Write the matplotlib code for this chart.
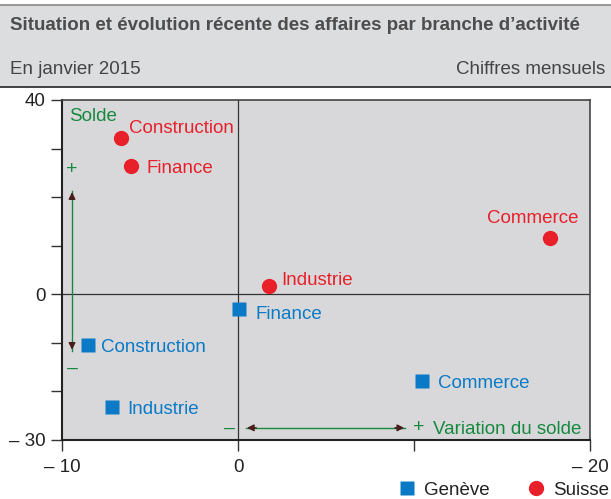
import matplotlib.pyplot as plt
from matplotlib.patches import Rectangle
from matplotlib.lines import Line2D

plt.rcParams['font.family'] = ['Liberation Sans', 'DejaVu Sans']

# Data: x = variation du solde, y = solde
branches = ["Construction", "Finance", "Commerce", "Industrie"]
suisse_x = [-6.65, -6.1, 17.7, 1.75]
suisse_y = [32.2, 26.4, 11.6, 1.7]
geneve_x = [-8.5, 0.05, 10.45, -7.15]
geneve_y = [-10.4, -3.0, -17.9, -23.2]

x_ticks = [-10, 0, 10, 20]
x_ticklabels = ["\u2013 10", "0", "", "\u2013 20"]
y_ticks = [-30, -20, -10, 0, 10, 20, 30, 40]
y_ticklabels = ["\u2013 30", "", "", "0", "", "", "", "40"]

RED = "#E8202A"
BLUE = "#0A7AC6"
GREEN = "#17893F"
HEAD = "#4A1C1C"
FS = 13.5

# label offsets in pixels (dx, dy, ha)
suisse_off = {"Construction": (8, 9, "left"), "Finance": (16, -2, "left"),
              "Commerce": (-17, 19, "center"), "Industrie": (12, 6, "left")}
geneve_off = {"Construction": (13, -3, "left"), "Finance": (17, -6, "left"),
              "Commerce": (16, -2, "left"), "Industrie": (15, -3, "left")}

fig = plt.figure(figsize=(6.11, 4.99), dpi=100)
W, H = 611, 499

# header band
fig.patches.append(Rectangle((0, (H - 87) / H), 1, 82 / H, transform=fig.transFigure,
                             facecolor="#DCDDDF", edgecolor="none", zorder=0))
fig.add_artist(Line2D([0, 1], [(H - 5) / H] * 2, transform=fig.transFigure, color="#888888", lw=1.2))
fig.add_artist(Line2D([0, 1], [(H - 87) / H] * 2, transform=fig.transFigure, color="#222222", lw=1.2))
fig.text(10 / W, (H - 26) / H, "Situation et évolution récente des affaires par branche d\u2019activité",
         fontsize=13.5, fontweight="bold", color="#4D4D4D", va="center", ha="left")
fig.text(10 / W, (H - 69) / H, "En janvier 2015", fontsize=FS, color="#444444", va="center", ha="left")
fig.text(605 / W, (H - 69) / H, "Chiffres mensuels", fontsize=FS, color="#444444", va="center", ha="right")

ax = fig.add_axes([62 / W, (H - 440) / H, (590 - 62) / W, (440 - 100) / H])
ax.set_facecolor("#D8D8DA")
ax.set_xlim(-10, 20)
ax.set_ylim(-30, 40)

for s in ["top", "right"]:
    ax.spines[s].set_color("#444444")
    ax.spines[s].set_linewidth(1.2)
for s in ["left", "bottom"]:
    ax.spines[s].set_color("#222222")
    ax.spines[s].set_linewidth(1.5)

ax.set_xticks(x_ticks)
ax.set_xticklabels(x_ticklabels)
ax.set_yticks(y_ticks)
ax.set_yticklabels(y_ticklabels)
ax.tick_params(axis="both", direction="out", length=8, width=1, color="#333333",
               labelsize=FS, labelcolor="#222222")
ax.tick_params(axis="x", pad=6)
ax.tick_params(axis="y", pad=4)

ax.axhline(0, color="#333333", lw=0.9, zorder=1)
ax.axvline(0, color="#333333", lw=0.9, zorder=1)

ax.plot(suisse_x, suisse_y, "o", color=RED, ms=11, mec="none", zorder=3)
ax.plot(geneve_x, geneve_y, "s", color=BLUE, ms=9.5, mec="none", zorder=3)

for name, x, y in zip(branches, suisse_x, suisse_y):
    dx, dy, ha = suisse_off[name]
    ax.annotate(name, (x, y), xytext=(dx, dy), textcoords="offset pixels",
                color=RED, fontsize=FS, ha=ha, va="center")
for name, x, y in zip(branches, geneve_x, geneve_y):
    dx, dy, ha = geneve_off[name]
    ax.annotate(name, (x, y), xytext=(dx, dy), textcoords="offset pixels",
                color=BLUE, fontsize=FS, ha=ha, va="center")

# axis explanation arrows
ax.text(-9.6, 36.6, "Solde", color=GREEN, fontsize=FS, va="center", ha="left")
ax.text(-9.43, 25.6, "+", color=GREEN, fontsize=14, va="center", ha="center")
ax.text(-9.43, -15.2, "\u2013", color=GREEN, fontsize=14, va="center", ha="center")
ax.plot([-9.43, -9.43], [21.3, -11.7], color=GREEN, lw=1, zorder=2)
ax.annotate("", xy=(-9.43, 21.6), xytext=(-9.43, 19.0),
            arrowprops=dict(arrowstyle="-|>", color=HEAD, lw=1, mutation_scale=10))
ax.annotate("", xy=(-9.43, -12.0), xytext=(-9.43, -9.4),
            arrowprops=dict(arrowstyle="-|>", color=HEAD, lw=1, mutation_scale=10))

ax.text(-0.5, -27.5, "\u2013", color=GREEN, fontsize=14, va="center", ha="center")
ax.text(10.25, -27.5, "+", color=GREEN, fontsize=14, va="center", ha="center")
ax.text(11.1, -27.8, "Variation du solde", color=GREEN, fontsize=FS, va="center", ha="left")
ax.plot([0.45, 9.5], [-27.5, -27.5], color=GREEN, lw=1, zorder=2)
ax.annotate("", xy=(0.35, -27.5), xytext=(1.2, -27.5),
            arrowprops=dict(arrowstyle="-|>", color=HEAD, lw=1, mutation_scale=10))
ax.annotate("", xy=(9.6, -27.5), xytext=(8.75, -27.5),
            arrowprops=dict(arrowstyle="-|>", color=HEAD, lw=1, mutation_scale=10))

# legend
handles = [Line2D([], [], marker="s", ls="none", color=BLUE, ms=9.5, mec="none", label="Genève"),
           Line2D([], [], marker="o", ls="none", color=RED, ms=11, mec="none", label="Suisse")]
fig.legend(handles=handles, loc="center right", bbox_to_anchor=(1.0, (H - 490) / H), ncol=2,
           frameon=False, fontsize=FS, handlelength=1, handletextpad=0.4, columnspacing=2.0,
           borderaxespad=0, borderpad=0.1, labelcolor="#222222")

fig.savefig("out.png", dpi=100)
